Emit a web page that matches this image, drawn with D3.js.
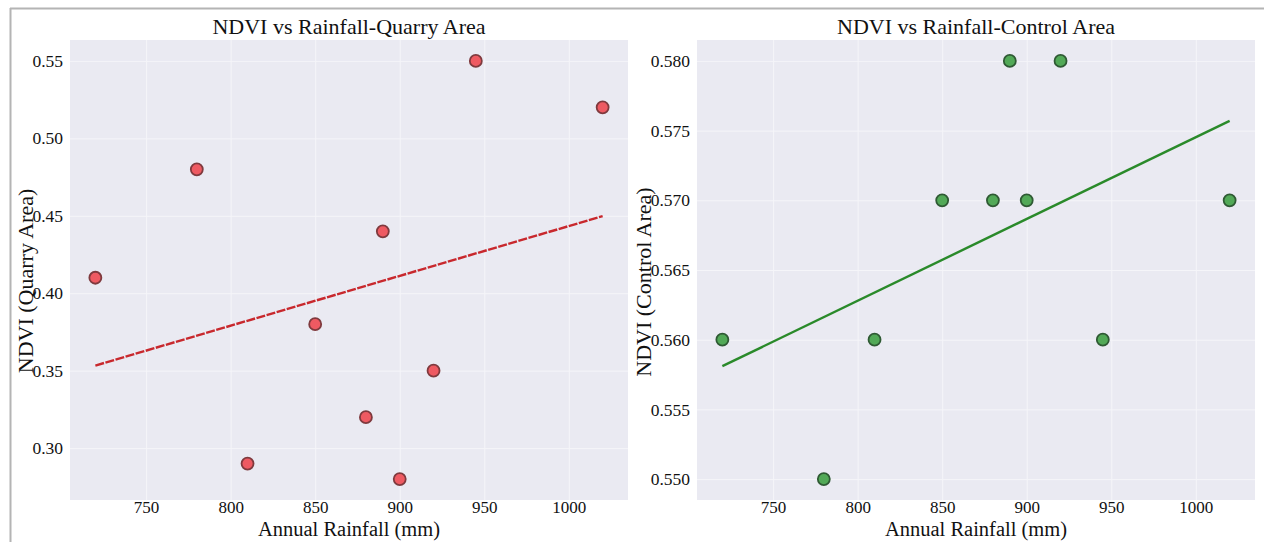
<!DOCTYPE html>
<html>
<head>
<meta charset="utf-8">
<script src="https://cdn.jsdelivr.net/npm/d3@7/dist/d3.min.js"></script>
<style>
  html, body { margin: 0; padding: 0; background: #ffffff; }
  svg { display: block; }
  text { font-family: "Liberation Serif", "DejaVu Serif", serif; fill: #111; }
</style>
</head>
<body>
<svg id="chart" width="1264" height="542"></svg>
<script>
// ---- data ----
const rainfall = [720, 780, 810, 850, 880, 890, 900, 920, 945, 1020];
const ndviQuarry = [0.41, 0.48, 0.29, 0.38, 0.32, 0.44, 0.28, 0.35, 0.55, 0.52];
const ndviControl = [0.56, 0.55, 0.56, 0.57, 0.57, 0.58, 0.57, 0.58, 0.56, 0.57];
const trendQuarry = [[720, 0.3533], [1020, 0.4498]];
const trendControl = [[720, 0.5581], [1020, 0.5757]];
const xTicks = [750, 800, 850, 900, 950, 1000];
const yTicksQuarry = [0.30, 0.35, 0.40, 0.45, 0.50, 0.55];
const yTicksControl = [0.550, 0.555, 0.560, 0.565, 0.570, 0.575, 0.580];
const titles = ["NDVI vs Rainfall-Quarry Area", "NDVI vs Rainfall-Control Area"];
const yLabels = ["NDVI (Quarry Area)", "NDVI (Control Area)"];
const xLabel = "Annual Rainfall (mm)";

const svg = d3.select("#chart");

// outer frame (top and left grey rule)
svg.append("line").attr("x1", 10).attr("x2", 1264).attr("y1", 8.5).attr("y2", 8.5)
  .attr("stroke", "#b4b4b4").attr("stroke-width", 2);
svg.append("line").attr("x1", 10.5).attr("x2", 10.5).attr("y1", 8).attr("y2", 542)
  .attr("stroke", "#b4b4b4").attr("stroke-width", 2);

function panel(cfg) {
  const x = d3.scaleLinear().domain([705, 1035]).range([cfg.left, cfg.right]);
  const y = d3.scaleLinear().domain(cfg.yDomain).range([500, 40]);
  const g = svg.append("g");

  g.append("rect").attr("x", cfg.left).attr("y", 40)
    .attr("width", cfg.right - cfg.left).attr("height", 460)
    .attr("fill", "#eaeaf2");

  // grid
  const gx = g.append("g").attr("transform", "translate(0,500)")
    .call(d3.axisBottom(x).tickValues(xTicks).tickSize(-460).tickFormat(""));
  gx.select(".domain").remove();
  gx.selectAll("line").attr("stroke", "#f5f5f9").attr("stroke-width", 1);
  const gy = g.append("g").attr("transform", `translate(${cfg.left},0)`)
    .call(d3.axisLeft(y).tickValues(cfg.yTicks).tickSize(-(cfg.right - cfg.left)).tickFormat(""));
  gy.select(".domain").remove();
  gy.selectAll("line").attr("stroke", "#f5f5f9").attr("stroke-width", 1);

  // tick labels
  const ax = g.append("g").attr("transform", "translate(0,500)")
    .call(d3.axisBottom(x).tickValues(xTicks).tickSize(0).tickPadding(1).tickFormat(d3.format("d")));
  ax.select(".domain").remove();
  ax.selectAll("text").attr("font-size", 17).attr("font-family", "Liberation Serif").attr("fill", "#222");

  const ay = g.append("g").attr("transform", `translate(${cfg.left},0)`)
    .call(d3.axisLeft(y).tickValues(cfg.yTicks).tickSize(0).tickPadding(7).tickFormat(d3.format(cfg.yFmt)));
  ay.select(".domain").remove();
  ay.selectAll("text").attr("font-size", 17.5).attr("font-family", "Liberation Serif").attr("fill", "#222");

  // trend line
  const line = d3.line().x(d => x(d[0])).y(d => y(d[1]));
  g.append("path").datum(cfg.trend).attr("d", line)
    .attr("fill", "none").attr("stroke", cfg.lineColor).attr("stroke-width", 2.4)
    .attr("stroke-dasharray", cfg.dash);

  // points
  g.selectAll("circle.pt").data(rainfall.map((r, i) => [r, cfg.values[i]]))
    .enter().append("circle").attr("class", "pt")
    .attr("cx", d => x(d[0])).attr("cy", d => y(d[1])).attr("r", 6)
    .attr("fill", cfg.fill).attr("stroke", cfg.stroke).attr("stroke-width", 1.8);

  // titles & labels
  const cx = (cfg.left + cfg.right) / 2;
  g.append("text").attr("x", cx).attr("y", 34).attr("text-anchor", "middle")
    .attr("font-size", 22).text(cfg.title);
  g.append("text").attr("x", cx).attr("y", 536).attr("text-anchor", "middle")
    .attr("font-size", 20.5).text(xLabel);
  g.append("text")
    .attr("transform", `translate(${cfg.yLabelX},${cfg.yLabelY}) rotate(-90)`)
    .attr("text-anchor", "middle").attr("font-size", 22).text(cfg.yLabel);
}

panel({
  left: 70, right: 628, yDomain: [0.2665, 0.5635], yTicks: yTicksQuarry, yFmt: ".2f",
  values: ndviQuarry, trend: trendQuarry, lineColor: "#c8282d", dash: "9,1.5",
  fill: "#ee5a62", stroke: "#7f3a3e", title: titles[0], yLabel: yLabels[0],
  yLabelX: 33, yLabelY: 281
});
panel({
  left: 697, right: 1255, yDomain: [0.5485, 0.5815], yTicks: yTicksControl, yFmt: ".3f",
  values: ndviControl, trend: trendControl, lineColor: "#2a8a2a", dash: null,
  fill: "#52a957", stroke: "#2f5a34", title: titles[1], yLabel: yLabels[1],
  yLabelX: 651, yLabelY: 282
});
</script>
</body>
</html>
